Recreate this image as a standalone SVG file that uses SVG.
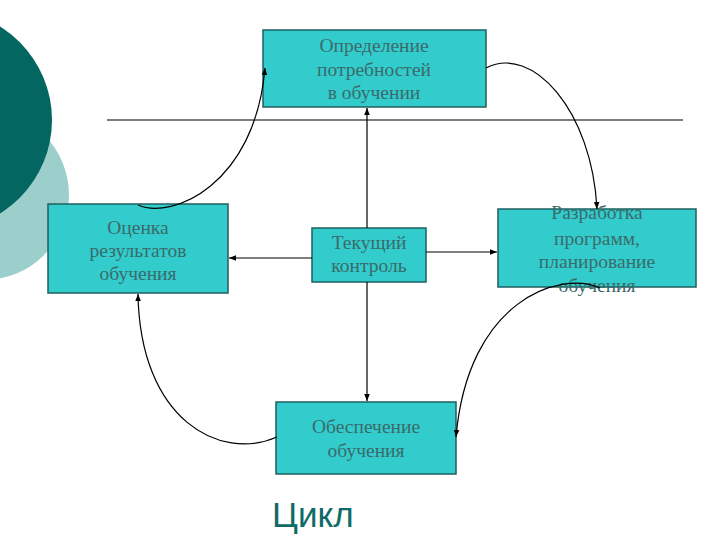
<svg xmlns="http://www.w3.org/2000/svg" width="720" height="540" viewBox="0 0 720 540">
<defs>
<marker id="ah" viewBox="0 0 10 10" refX="10" refY="5" markerWidth="7" markerHeight="7" orient="auto" markerUnits="userSpaceOnUse">
<path d="M0,1 L10,5 L0,9 Z" fill="#000"/>
</marker>
<style>
.box{fill:#33CCCC;stroke:#1F5F5F;stroke-width:1.5}
.t{font-family:"Liberation Serif","Times New Roman",serif;font-size:19.5px;fill:#3A6B6B;text-anchor:middle}
.c{fill:none;stroke:#000;stroke-width:1.2;marker-end:url(#ah)}
</style>
</defs>
<rect width="720" height="540" fill="#fff"/>
<g id="decor">
<circle cx="-16" cy="195" r="85" fill="#9CCFCC"/>
<circle cx="-58" cy="120" r="110" fill="#036660"/>
<line x1="107" y1="120" x2="683" y2="120" stroke="#505050" stroke-width="1.5"/>
</g>
<g id="n1">
<rect class="box" x="263" y="30" width="223" height="77"/>
<text class="t" x="374" y="52">Определение</text>
<text class="t" x="374" y="76">потребностей</text>
<text class="t" x="374" y="99">в обучении</text>
</g>
<g id="n2">
<rect class="box" x="48" y="204" width="180" height="89"/>
<text class="t" x="138" y="234">Оценка</text>
<text class="t" x="138" y="257">результатов</text>
<text class="t" x="138" y="280">обучения</text>
</g>
<g id="n3">
<rect class="box" x="312" y="228" width="114" height="54"/>
<text class="t" x="369" y="249">Текущий</text>
<text class="t" x="369" y="272">контроль</text>
</g>
<g id="n4">
<rect class="box" x="498" y="209" width="198" height="78"/>
<text class="t" x="597" y="219">Разработка</text>
<text class="t" x="597" y="245">программ,</text>
<text class="t" x="597" y="268">планирование</text>
<text class="t" x="597" y="292">обучения</text>
</g>
<g id="n5">
<rect class="box" x="276" y="402" width="180" height="72"/>
<text class="t" x="366" y="433">Обеспечение</text>
<text class="t" x="366" y="457">обучения</text>
</g>
<g id="connectors">
<path class="c" d="M367,228 L367,108"/>
<path class="c" d="M367,282 L367,401"/>
<path class="c" d="M312,258 L229,258"/>
<path class="c" d="M426,252 L497,252"/>
<path class="c" d="M138,205 C172,220 255,185 265,68"/>
<path class="c" d="M486,68 C532,44 592,110 597,209"/>
<path class="c" d="M600,288 C560,270 468,300 456,437"/>
<path class="c" d="M277,437 C220,462 140,420 138,294"/>
</g>
<text x="272" y="527" font-family="'Liberation Sans',Arial,sans-serif" font-size="35" fill="#0E6B66">Цикл</text>
</svg>
